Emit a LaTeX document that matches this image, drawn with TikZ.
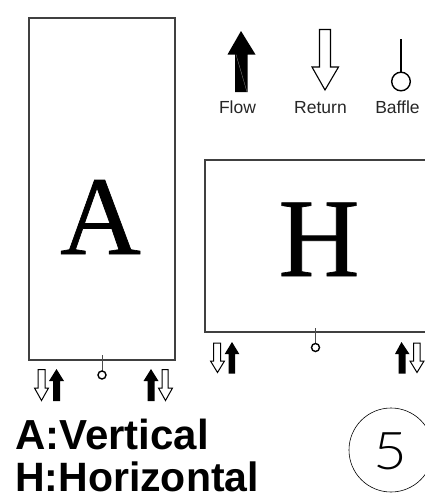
\documentclass[tikz,border=0pt]{standalone}
\usepackage{fontspec}
\setmainfont{Liberation Sans}
\newfontfamily\serifbig[FakeBold=0.6]{Liberation Serif}
\newfontfamily\thinfig[FakeStretch=1.12]{Lato Light}
\tikzset{
  boxline/.style={draw=black!75,line width=1.2pt},
  retarrow/.style={draw=black,fill=white,line width=1pt,line join=miter},
  flowarrow/.style={fill=black},
  flowseam/.style={draw=black!45,line width=0.3pt},
  baffleline/.style={draw=black!70,line width=0.7pt},
  bafflering/.style={draw=black,fill=white,line width=1.4pt},
  legend/.style={font=\fontsize{17.5}{17.5}\selectfont,text=black!85,anchor=base,inner sep=0pt},
  heading/.style={text=black,anchor=base west,inner sep=0pt},
  bigletter/.style={font=\serifbig\fontsize{112}{112}\selectfont,text=black,anchor=base,inner sep=0pt},
}
\begin{document}
\begin{tikzpicture}[x=1pt,y=-1pt]
\useasboundingbox (0,0) rectangle (425,496);
\clip (0,0) rectangle (425,496);
% boxes
\draw[boxline] (29,18) rectangle (175,360);
\draw[boxline] (430,160) -- (205,160) -- (205,332) -- (430,332);
\node[bigletter] (letterA) at (100.5,254) {A};
\node[bigletter] (letterH) at (319,276) {H};
% legend
\fill[flowarrow] (241,31) -- (255.5,54.5) -- (247.7,54.5) -- (247.7,92) -- (235,92) -- (235,54.5) -- (227.5,54.5) -- cycle;
\draw[flowseam] (236,54.5) -- (247,92);
\draw[retarrow,line width=1.1pt] (319.5,29.5) -- (330.5,29.5) -- (330.5,67) -- (338.5,67) -- (325,90) -- (312,67) -- (319.5,67) -- cycle;
\draw[draw=black,line width=1.3pt] (401,39) -- (401,72);
\draw[bafflering] (401,81.5) circle (9.3);
\node[legend] (flow) at (237.5,113) {Flow};
\node[legend] (return) at (320.5,113) {Return};
\node[legend] (baffle) at (397.5,113) {Baffle};
% A box arrows
\draw[retarrow] (38,369.5) -- (45,369.5) -- (45,388) -- (48.5,388) -- (41.5,400.5) -- (34.5,388) -- (38,388) -- cycle;
\fill[flowarrow] (56.5,369) -- (64,381) -- (60,381) -- (60,401) -- (53,401) -- (53,381) -- (49,381) -- cycle;
\fill[flowarrow] (151,369) -- (158.5,381) -- (154.5,381) -- (154.5,401) -- (147.5,401) -- (147.5,381) -- (143.5,381) -- cycle;
\draw[retarrow] (162,369.5) -- (168,369.5) -- (168,388) -- (172.5,388) -- (165.5,400.5) -- (158.5,388) -- (162,388) -- cycle;
\draw[baffleline] (102,355) -- (102,371);
\draw[bafflering] (102,375) circle (4);
% H box arrows
\draw[retarrow] (213.5,343) -- (220.5,343) -- (220.5,361) -- (224.5,361) -- (217.5,372.5) -- (210.5,361) -- (213.5,361) -- cycle;
\fill[flowarrow] (232,342) -- (239.3,354) -- (235,354) -- (235,373.5) -- (228.5,373.5) -- (228.5,354) -- (224.7,354) -- cycle;
\fill[flowarrow] (401.5,342) -- (409.5,354) -- (405.5,354) -- (405.5,373.5) -- (398.5,373.5) -- (398.5,354) -- (395,354) -- cycle;
\draw[retarrow] (413.5,343) -- (420,343) -- (420,361) -- (424,361) -- (417,372.5) -- (410,361) -- (413.5,361) -- cycle;
\draw[baffleline] (315.5,328) -- (315.5,343);
\draw[bafflering] (315.5,347.5) circle (4);
% headings
\node[heading,font=\bfseries\fontsize{42}{42}\selectfont] (headA) at (15,449) {A:Vertical};
\node[heading,font=\bfseries\fontsize{41}{41}\selectfont] (headH) at (15,491) {H:Horizontal};
% sheet number
\draw[black,line width=0.6pt] (391,450) circle (42);
\node[font=\thinfig\fontsize{52}{52}\selectfont,text=black,anchor=base,inner sep=0pt] (num) at (390,469) {5};
\end{tikzpicture}
\end{document}
